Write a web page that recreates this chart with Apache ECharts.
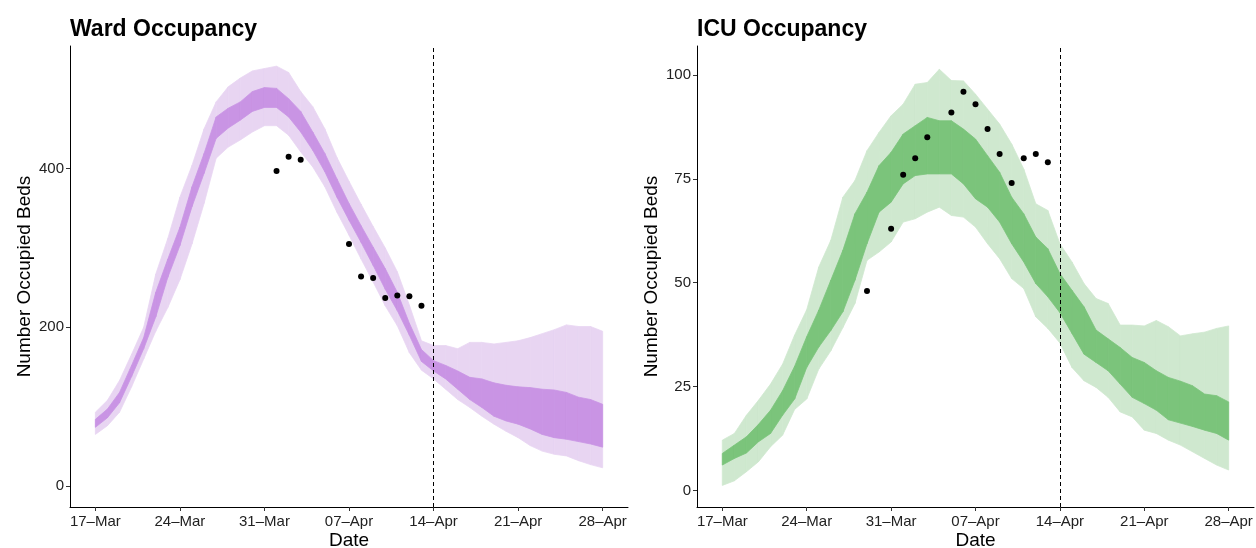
<!DOCTYPE html>
<html>
<head>
<meta charset="utf-8">
<script src="https://cdn.jsdelivr.net/npm/echarts@6/dist/echarts.min.js"></script>
<style>
  html, body { margin: 0; padding: 0; background: #fff; }
  #chart { width: 1256px; height: 548px; }
</style>
</head>
<body>
<div id="chart"></div>
<script>
// days since 17-Mar, tick labels every 7 days
const tickDays = [0, 7, 14, 21, 28, 35, 42]
const tickLabels = ['17–Mar', '24–Mar', '31–Mar', '07–Apr', '14–Apr', '21–Apr', '28–Apr']
const cutoffDay = 28

// ward occupancy bands (17-Mar .. 28-Apr, daily)
const wardLo95 = [65, 76, 93, 125, 160, 195, 225, 260, 305, 356, 413, 427, 436, 446, 454, 454, 442, 421, 402, 377, 345, 316, 286, 257, 227, 202, 168, 146, 135, 122, 109, 99, 88, 78, 69, 61, 51, 44, 40, 38, 32, 27, 23]
const wardLo50 = [74, 86, 105, 138, 173, 213, 263, 303, 352, 394, 438, 451, 461, 472, 477, 477, 465, 446, 423, 396, 364, 335, 307, 278, 248, 221, 190, 157, 145, 135, 122, 109, 99, 88, 82, 78, 72, 65, 61, 59, 56, 53, 49]
const wardHi50 = [84, 97, 118, 152, 187, 244, 286, 326, 377, 419, 465, 476, 484, 497, 502, 501, 488, 472, 446, 419, 387, 356, 328, 301, 274, 244, 205, 172, 158, 152, 145, 137, 135, 130, 127, 125, 124, 122, 121, 118, 112, 109, 103]
const wardHi95 = [93, 108, 133, 166, 200, 267, 312, 364, 404, 450, 484, 503, 514, 523, 526, 529, 521, 497, 478, 450, 414, 384, 355, 327, 300, 270, 228, 183, 177, 177, 173, 181, 181, 179, 181, 183, 187, 192, 197, 203, 201, 201, 195]
const wardObsDay = [15, 16, 17, 21, 22, 23, 24, 25, 26, 27]
const wardObs = [397, 415, 411, 305, 264, 262, 237, 240, 239, 227]

// ICU occupancy bands
const icuLo95 = [1.2, 2.3, 4.5, 6.9, 10.5, 13.3, 19.5, 22.0, 29.2, 33.6, 39.2, 45.0, 55.4, 57.4, 59.8, 64.6, 65.4, 67.0, 68.2, 66.2, 65.8, 63.4, 59.4, 55.8, 51.0, 48.6, 41.8, 39.0, 35.5, 29.6, 26.4, 24.8, 22.4, 18.9, 17.7, 14.5, 13.7, 12.1, 10.9, 9.3, 7.7, 6.1, 4.9]
const icuLo50 = [6.1, 7.7, 9.0, 11.7, 13.7, 18.1, 22.0, 29.6, 34.5, 38.5, 43.0, 50.6, 59.4, 67.0, 69.4, 73.8, 75.8, 76.2, 76.2, 76.2, 73.8, 70.2, 68.2, 64.6, 59.4, 55.0, 49.8, 46.6, 42.8, 37.8, 32.8, 30.8, 28.8, 25.6, 22.4, 20.9, 19.3, 17.0, 16.2, 15.4, 14.5, 13.7, 12.1]
const icuHi50 = [8.9, 10.9, 12.9, 15.9, 19.3, 24.0, 29.9, 37.0, 43.4, 50.6, 57.8, 66.6, 71.8, 78.2, 81.4, 85.8, 87.8, 89.8, 89.0, 89.0, 87.0, 84.6, 80.6, 76.6, 70.6, 66.6, 61.0, 58.2, 52.2, 48.2, 44.2, 38.6, 36.5, 34.4, 32.0, 30.8, 28.8, 27.2, 26.3, 25.2, 23.2, 22.8, 21.3]
const icuHi95 = [12.1, 13.7, 18.1, 21.7, 25.6, 30.4, 37.4, 43.5, 53.8, 60.2, 70.6, 74.6, 81.8, 86.2, 90.2, 93.0, 97.8, 98.2, 101.4, 98.7, 98.6, 95.4, 91.8, 88.2, 83.4, 77.4, 69.0, 67.4, 59.4, 55.0, 49.8, 46.2, 45.0, 39.8, 39.8, 39.6, 40.9, 39.4, 37.2, 37.7, 38.1, 39.0, 39.6]
const icuObsDay = [12, 14, 15, 16, 17, 19, 20, 21, 22, 23, 24, 25, 26, 27]
const icuObs = [48, 63, 76, 80, 85, 91, 96, 93, 87, 81, 74, 80, 81, 79]

const FONT = 'Liberation Sans, Arial, sans-serif'

// ribbon drawn as one quad per day step: [day, lo, hi, nextDay, nextLo, nextHi]
const ribbon = (idx, lo, hi, color) => ({
  type: 'custom', xAxisIndex: idx, yAxisIndex: idx, silent: true,
  data: lo.slice(0, -1).map((v, i) => [i, v, hi[i], i + 1, lo[i + 1], hi[i + 1]]),
  encode: { x: [0, 3], y: [1, 2, 4, 5] },
  renderItem: (params, api) => {
    const a = api.coord([api.value(0), api.value(1)])
    const b = api.coord([api.value(3), api.value(4)])
    const c = api.coord([api.value(3), api.value(5)])
    const d = api.coord([api.value(0), api.value(2)])
    return {
      type: 'polygon',
      shape: { points: [a, b, c, d] },
      style: { fill: color, stroke: color, lineWidth: 0.8 }
    }
  }
})

const xAxisFor = (idx) => ({
  type: 'value', gridIndex: idx, min: -2.1, max: 44.1,
  name: 'Date', nameLocation: 'middle', nameGap: 24, nameMoveOverlap: false,
  nameTextStyle: { fontFamily: FONT, fontSize: 19, color: '#000' },
  axisLine: { show: true, onZero: false, lineStyle: { color: '#000', width: 1 } },
  axisTick: { show: true, length: 4, customValues: tickDays, lineStyle: { color: '#333' } },
  axisLabel: {
    customValues: tickDays, margin: 7,
    fontFamily: FONT, fontSize: 15, color: '#222',
    formatter: (v) => tickLabels[tickDays.indexOf(v)]
  },
  splitLine: { show: false }
})

const yAxisFor = (idx, min, max, ticks) => ({
  type: 'value', gridIndex: idx, min: min, max: max,
  name: 'Number Occupied Beds', nameLocation: 'middle', nameGap: 36,
  nameTextStyle: { fontFamily: FONT, fontSize: 19, color: '#000' },
  axisLine: { show: true, onZero: false, lineStyle: { color: '#000', width: 1 } },
  axisTick: { show: true, length: 4, customValues: ticks, lineStyle: { color: '#333' } },
  axisLabel: { customValues: ticks, margin: 6, fontFamily: FONT, fontSize: 15, color: '#222' },
  splitLine: { show: false }
})

const dots = (idx, xs, ys) => ({
  type: 'scatter', xAxisIndex: idx, yAxisIndex: idx,
  data: xs.map((d, i) => [d, ys[i]]),
  symbolSize: 6, itemStyle: { color: '#000', opacity: 1 }, z: 5,
  markLine: {
    silent: true, symbol: 'none', label: { show: false },
    lineStyle: { color: '#000', type: [4, 3], width: 1 },
    data: [{ xAxis: cutoffDay }]
  }
})

const chart = echarts.init(document.getElementById('chart'))

chart.setOption({
  animation: false,
  title: [
    { text: 'Ward Occupancy', left: 65, top: 13,
      textStyle: { fontFamily: FONT, fontSize: 23, fontWeight: 'bold', color: '#000' } },
    { text: 'ICU Occupancy', left: 692, top: 13,
      textStyle: { fontFamily: FONT, fontSize: 23, fontWeight: 'bold', color: '#000' } }
  ],
  grid: [
    { left: 70, right: 628, top: 46, bottom: 41, outerBoundsMode: 'none' },
    { left: 697, right: 2, top: 46, bottom: 41, outerBoundsMode: 'none' }
  ],
  xAxis: [xAxisFor(0), xAxisFor(1)],
  yAxis: [
    yAxisFor(0, -26.4, 554.4, [0, 200, 400]),
    yAxisFor(1, -4, 107, [0, 25, 50, 75, 100])
  ],
  series: [
    ribbon(0, wardLo95, wardHi95, '#e8d5f2'),
    ribbon(0, wardLo50, wardHi50, '#c994e4'),
    dots(0, wardObsDay, wardObs),
    ribbon(1, icuLo95, icuHi95, '#cfe8cf'),
    ribbon(1, icuLo50, icuHi50, '#7bc47b'),
    dots(1, icuObsDay, icuObs)
  ]
})
</script>
</body>
</html>
